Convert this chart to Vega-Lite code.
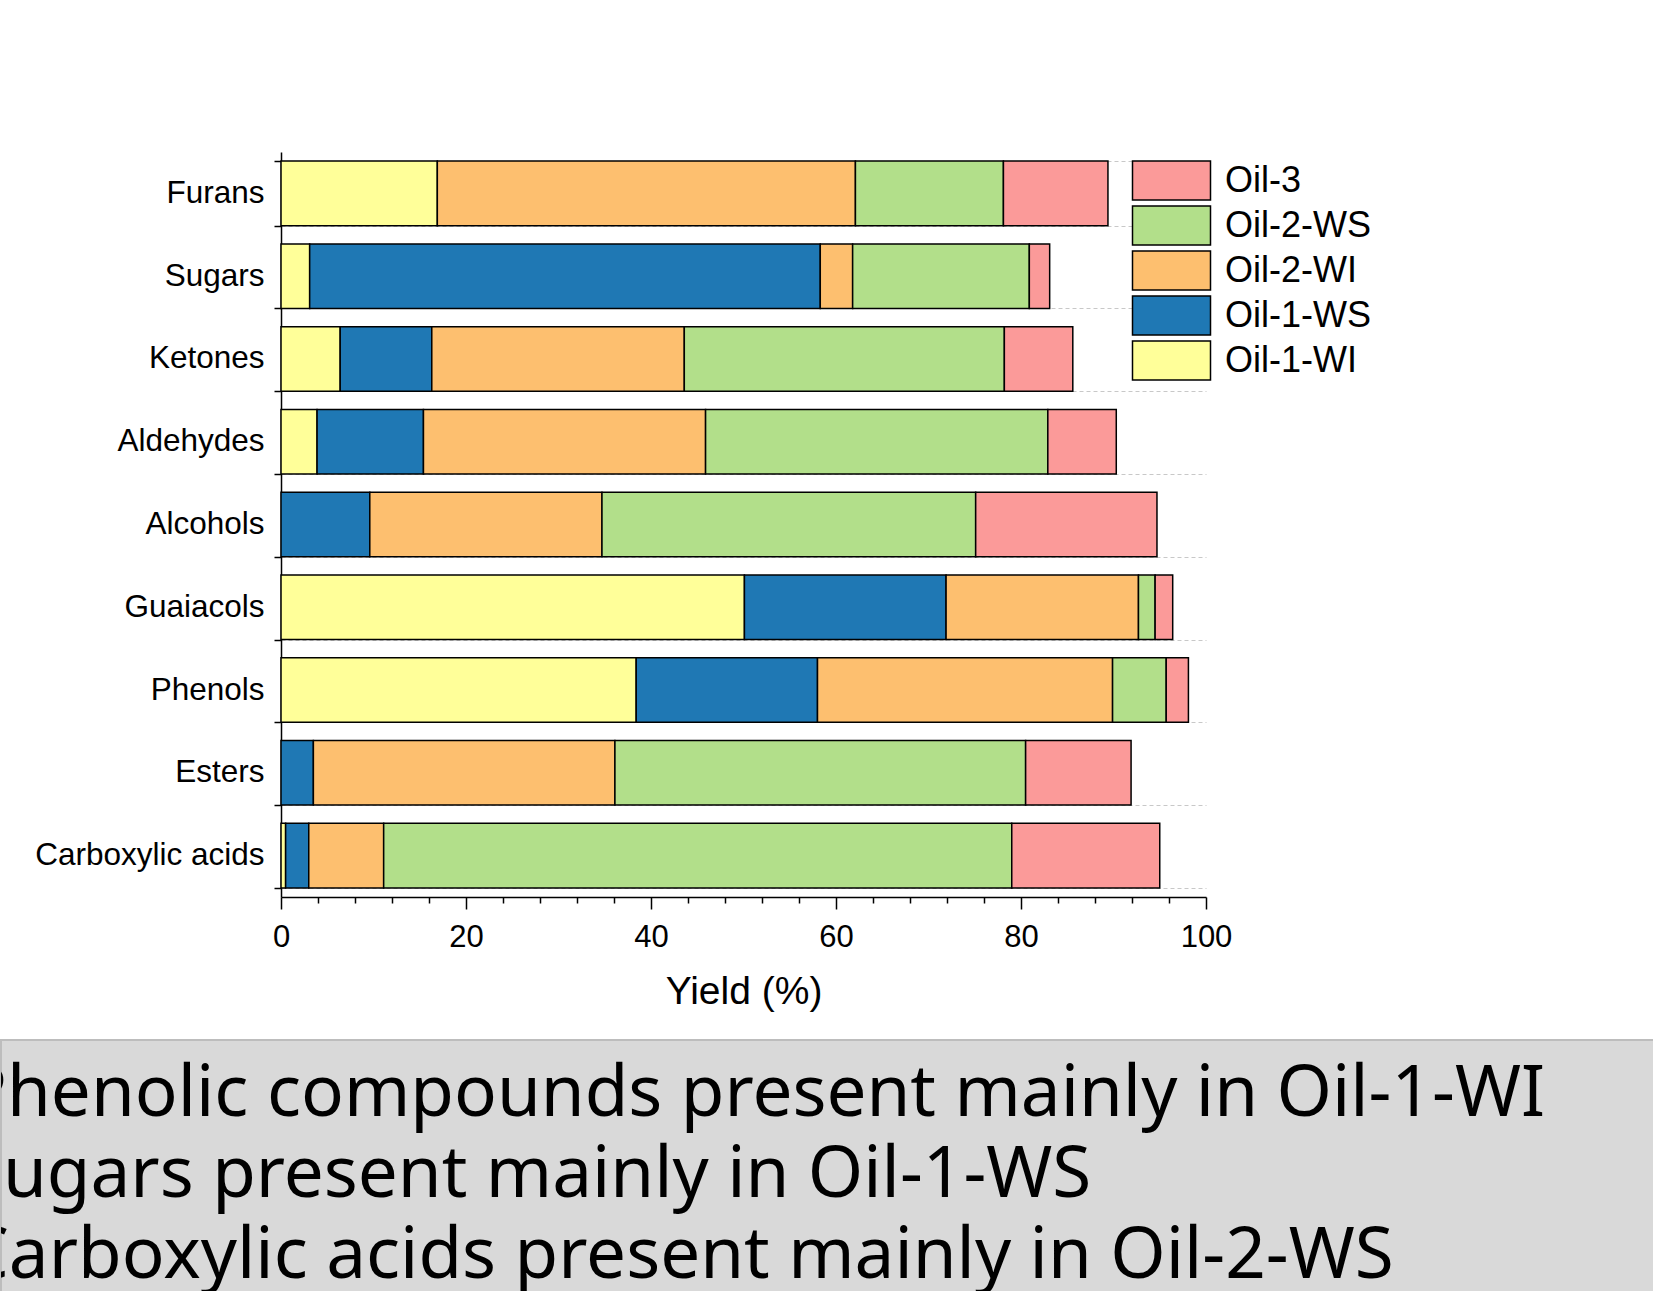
{
  "$schema": "https://vega.github.io/schema/vega-lite/v6.json",
  "background": "white",
  "padding": {"left": 0, "top": 136, "right": 0, "bottom": 0},
  "spacing": 28,
  "config": {
    "view": {"stroke": null},
    "font": "Liberation Sans",
    "axis": {"domainColor": "black", "tickColor": "black", "labelColor": "black", "titleColor": "black", "domainWidth": 1.5, "tickWidth": 1.5, "labelFont": "Liberation Sans", "titleFont": "Liberation Sans"}
  },
  "vconcat": [
    {
      "width": 1205,
      "height": 745,
      "data": {"values": [
        {"category": "Furans", "series": "Oil-1-WI", "value": 16.9},
        {"category": "Furans", "series": "Oil-2-WI", "value": 45.2},
        {"category": "Furans", "series": "Oil-2-WS", "value": 16.0},
        {"category": "Furans", "series": "Oil-3", "value": 11.3},
        {"category": "Sugars", "series": "Oil-1-WI", "value": 3.1},
        {"category": "Sugars", "series": "Oil-1-WS", "value": 55.2},
        {"category": "Sugars", "series": "Oil-2-WI", "value": 3.5},
        {"category": "Sugars", "series": "Oil-2-WS", "value": 19.1},
        {"category": "Sugars", "series": "Oil-3", "value": 2.2},
        {"category": "Ketones", "series": "Oil-1-WI", "value": 6.4},
        {"category": "Ketones", "series": "Oil-1-WS", "value": 9.9},
        {"category": "Ketones", "series": "Oil-2-WI", "value": 27.3},
        {"category": "Ketones", "series": "Oil-2-WS", "value": 34.6},
        {"category": "Ketones", "series": "Oil-3", "value": 7.4},
        {"category": "Aldehydes", "series": "Oil-1-WI", "value": 3.9},
        {"category": "Aldehydes", "series": "Oil-1-WS", "value": 11.5},
        {"category": "Aldehydes", "series": "Oil-2-WI", "value": 30.5},
        {"category": "Aldehydes", "series": "Oil-2-WS", "value": 37.0},
        {"category": "Aldehydes", "series": "Oil-3", "value": 7.4},
        {"category": "Alcohols", "series": "Oil-1-WS", "value": 9.6},
        {"category": "Alcohols", "series": "Oil-2-WI", "value": 25.1},
        {"category": "Alcohols", "series": "Oil-2-WS", "value": 40.4},
        {"category": "Alcohols", "series": "Oil-3", "value": 19.6},
        {"category": "Guaiacols", "series": "Oil-1-WI", "value": 50.1},
        {"category": "Guaiacols", "series": "Oil-1-WS", "value": 21.8},
        {"category": "Guaiacols", "series": "Oil-2-WI", "value": 20.8},
        {"category": "Guaiacols", "series": "Oil-2-WS", "value": 1.8},
        {"category": "Guaiacols", "series": "Oil-3", "value": 1.9},
        {"category": "Phenols", "series": "Oil-1-WI", "value": 38.4},
        {"category": "Phenols", "series": "Oil-1-WS", "value": 19.6},
        {"category": "Phenols", "series": "Oil-2-WI", "value": 31.9},
        {"category": "Phenols", "series": "Oil-2-WS", "value": 5.8},
        {"category": "Phenols", "series": "Oil-3", "value": 2.4},
        {"category": "Esters", "series": "Oil-1-WS", "value": 3.5},
        {"category": "Esters", "series": "Oil-2-WI", "value": 32.6},
        {"category": "Esters", "series": "Oil-2-WS", "value": 44.4},
        {"category": "Esters", "series": "Oil-3", "value": 11.4},
        {"category": "Carboxylic acids", "series": "Oil-1-WI", "value": 0.5},
        {"category": "Carboxylic acids", "series": "Oil-1-WS", "value": 2.5},
        {"category": "Carboxylic acids", "series": "Oil-2-WI", "value": 8.1},
        {"category": "Carboxylic acids", "series": "Oil-2-WS", "value": 67.9},
        {"category": "Carboxylic acids", "series": "Oil-3", "value": 16.0}
      ]},
      "mark": {"type": "bar", "stroke": "black", "strokeWidth": 1.5, "opacity": 1},
      "encoding": {
        "y": {
          "field": "category", "type": "nominal",
          "sort": ["Furans", "Sugars", "Ketones", "Aldehydes", "Alcohols", "Guaiacols", "Phenols", "Esters", "Carboxylic acids"],
          "scale": {"paddingInner": 0.22, "paddingOuter": 0.11},
          "axis": {"title": null, "offset": -280, "tickBand": "extent", "labelFontSize": 31.5, "labelLimit": 400, "labelPadding": 10, "tickSize": 7, "grid": true, "gridDash": [4, 3], "gridColor": "#c8c8c8", "gridWidth": 1}
        },
        "x": {
          "field": "value", "type": "quantitative", "stack": "zero",
          "scale": {"domain": [0, 100], "nice": false, "range": [280, 1205]},
          "axis": {
            "title": "Yield (%)", "grid": false,
            "values": [0, 4, 8, 12, 16, 20, 24, 28, 32, 36, 40, 44, 48, 52, 56, 60, 64, 68, 72, 76, 80, 84, 88, 92, 96, 100],
            "labelExpr": "datum.value % 20 === 0 ? datum.label : ''",
            "tickSize": {"expr": "datum.value % 20 === 0 ? 12 : 6"},
            "labelFontSize": 31, "labelPadding": 13, "labelFlush": false,
            "titleFontSize": 39, "titleFontWeight": "normal", "titlePadding": 20
          }
        },
        "color": {
          "field": "series", "type": "nominal",
          "scale": {"domain": ["Oil-3", "Oil-2-WS", "Oil-2-WI", "Oil-1-WS", "Oil-1-WI"], "range": ["#fb9a99", "#b2df8a", "#fdbf6f", "#1f78b4", "#ffff99"]},
          "legend": {
            "title": null, "orient": "none", "legendX": 1150, "legendY": 8,
            "symbolType": "M-2,-1H2V1H-2Z", "symbolSize": 1521,
            "symbolStrokeColor": "black", "symbolStrokeWidth": 1.5, "symbolOpacity": 1,
            "labelFontSize": 36, "labelFont": "Liberation Sans", "labelColor": "black", "labelOffset": 33, "rowPadding": 0
          }
        },
        "order": {"field": "series", "sort": "ascending"}
      }
    },
    {
      "width": 1653,
      "height": 252,
      "view": {"fill": "#d9d9d9", "stroke": "#bdbdbd", "strokeWidth": 2},
      "data": {"values": [
        {"line": 1, "text": "Phenolic compounds present mainly in Oil-1-WI"},
        {"line": 2, "text": "Sugars present mainly in Oil-1-WS"},
        {"line": 3, "text": "Carboxylic acids present mainly in Oil-2-WS"}
      ]},
      "mark": {"type": "text", "align": "left", "baseline": "alphabetic", "font": "Noto Sans", "fontSize": 71, "color": "black", "dx": -37, "clip": true},
      "encoding": {
        "x": {"datum": 0, "type": "quantitative", "scale": {"domain": [0, 1]}, "axis": null},
        "y": {"field": "line", "type": "quantitative", "scale": {"domain": [0.05, 3.18], "reverse": true, "zero": false, "nice": false}, "axis": null},
        "text": {"field": "text"}
      }
    }
  ]
}
